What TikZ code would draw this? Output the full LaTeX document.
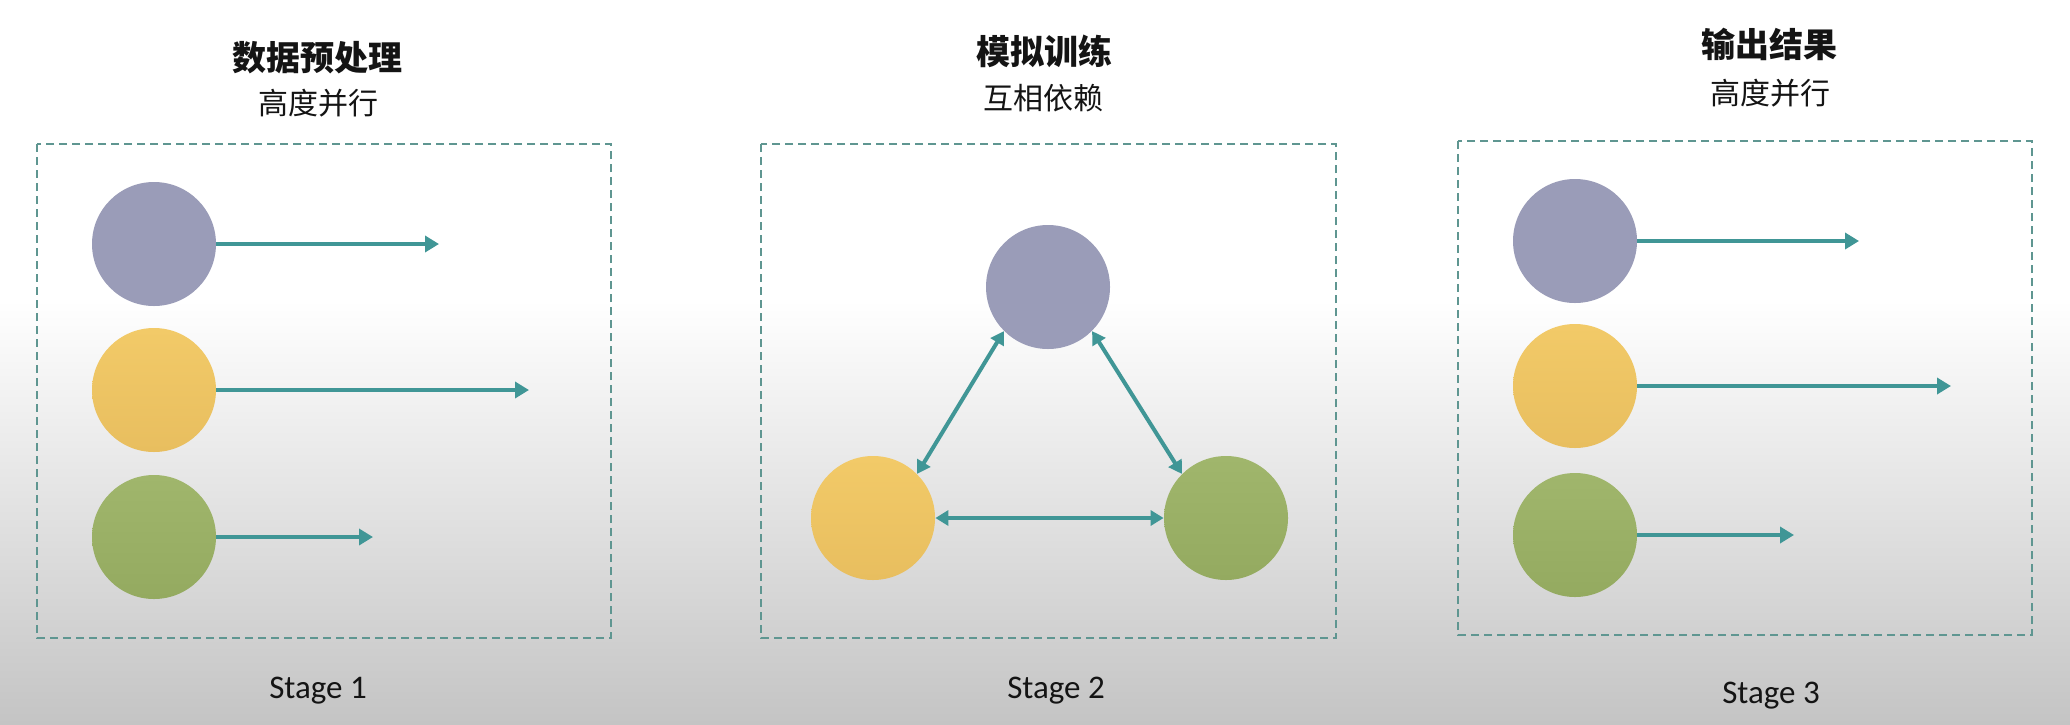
\documentclass[tikz,border=0pt]{standalone}
\usepackage{fontspec}
\setmainfont{Carlito}
\newfontfamily\cjk{Noto Sans CJK SC}
\usetikzlibrary{arrows.meta}
\definecolor{teal1}{RGB}{64,150,150}
\definecolor{boxline}{RGB}{95,150,145}
\definecolor{cpurple}{RGB}{154,156,184}
\definecolor{cyellowT}{RGB}{242,202,104}
\definecolor{cyellowB}{RGB}{232,190,95}
\definecolor{cgreenT}{RGB}{160,182,108}
\definecolor{cgreenB}{RGB}{148,170,96}
\definecolor{bggray}{RGB}{196,196,196}
\definecolor{txt}{RGB}{20,20,20}
\begin{document}
\begin{tikzpicture}[x=0.5pt,y=-0.5pt,
 ball/.style={circle, minimum size=62pt, inner sep=0pt, draw=none},
 pball/.style={ball, fill=cpurple},
 yball/.style={ball, top color=cyellowT, bottom color=cyellowB},
 gball/.style={ball, top color=cgreenT, bottom color=cgreenB},
 frame/.style={draw=boxline, line width=0.8pt, dash pattern=on 4pt off 2.5pt},
 link/.style={draw=teal1, line width=2.4pt, -{Triangle[length=7pt,width=8pt]}},
 link2/.style={draw=teal1, line width=2pt, {Triangle[length=6.5pt,width=7.5pt]}-{Triangle[length=6.5pt,width=7.5pt]}},
 title/.style={font=\cjk\bfseries\fontsize{17pt}{20pt}\selectfont, text=txt, inner sep=0pt},
 subtitle/.style={font=\cjk\fontsize{15pt}{18pt}\selectfont, text=txt, inner sep=0pt},
 stagelabel/.style={font=\fontsize{16.5pt}{20pt}\selectfont, text=txt, inner sep=0pt, anchor=base},
]
\path[use as bounding box] (0,0) rectangle (2070,724);
\fill[white] (0,0) rectangle (2070,301);
\shade[top color=white, bottom color=bggray] (0,300) rectangle (2070,724);

% frames
\draw[frame] (37,144) rectangle (611,638);
\draw[frame] (761,144) rectangle (1336,638);
\draw[frame] (1458,141) rectangle (2032,635);

% titles
\node[title] (t1) at (317,58) {数据预处理};
\node[subtitle] (s1) at (318,103) {高度并行};
\node[title] (t2) at (1044,51) {模拟训练};
\node[subtitle] (s2) at (1043,98) {互相依赖};
\node[title] (t3) at (1769,44) {输出结果};
\node[subtitle] (s3) at (1770,93) {高度并行};

% stage labels
\node[stagelabel] (l1) at (318,698) {Stage 1};
\node[stagelabel] (l2) at (1056,698) {Stage 2};
\node[stagelabel] (l3) at (1771,703) {Stage 3};

% stage 1
\node[pball] (a1) at (154,244) {};
\node[yball] (a2) at (154,390) {};
\node[gball] (a3) at (154,537) {};
\coordinate (a1e) at (439,244);
\coordinate (a2e) at (529,390);
\coordinate (a3e) at (373,537);
\draw[link] (a1) -- (a1e);
\draw[link] (a2) -- (a2e);
\draw[link] (a3) -- (a3e);

% stage 2
\node[pball] (b1) at (1048,287) {};
\node[yball] (b2) at (873,518) {};
\node[gball] (b3) at (1226,518) {};
\draw[link2] (b1.south west) -- (b2.north east);
\draw[link2] (b1.south east) -- (b3.north west);
\draw[link2] (b2.east) -- (b3.west);

% stage 3
\node[pball] (c1) at (1575,241) {};
\node[yball] (c2) at (1575,386) {};
\node[gball] (c3) at (1575,535) {};
\coordinate (c1e) at (1859,241);
\coordinate (c2e) at (1951,386);
\coordinate (c3e) at (1794,535);
\draw[link] (c1) -- (c1e);
\draw[link] (c2) -- (c2e);
\draw[link] (c3) -- (c3e);
\end{tikzpicture}
\end{document}
